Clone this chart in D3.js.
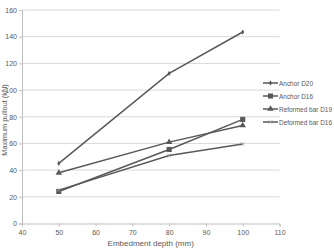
<!DOCTYPE html>
<meta charset="utf-8">
<title>Maximum pullout vs embedment depth</title>
<style>
body { margin: 0; background: #fff; }
text { font-family: "Liberation Sans", Arial, sans-serif; fill: #595959; }
</style>
<body>
<div id="chart"></div>
<script src="https://d3js.org/d3.v7.min.js"></script>
<script>
// data
const depths = [50, 80, 100];
const seriesNames = ["Anchor D20", "Anchor D16", "Reformed bar D19", "Deformed bar D16"];
const anchorD20 = [45, 112.5, 143.5];
const anchorD16 = [24, 55.5, 78];
const reformedD19 = [38, 61, 73.5];
const deformedD16 = [25, 51, 59.5];
const xTicks = [40, 50, 60, 70, 80, 90, 100, 110];
const yTicks = [0, 20, 40, 60, 80, 100, 120, 140, 160];

const width = 334, height = 249;
const textColor = "#595959";
const svg = d3.select("#chart").append("svg")
    .attr("width", width)
    .attr("height", height);

const x = d3.scaleLinear().domain([40, 110]).range([22, 279.5]);
const y = d3.scaleLinear().domain([0, 160]).range([223.5, 10]);

// gridlines
svg.append("g")
  .selectAll("line")
  .data(yTicks.slice(1))
  .join("line")
    .attr("x1", x(40)).attr("x2", x(110))
    .attr("y1", d => y(d)).attr("y2", d => y(d))
    .attr("stroke", "#d9d9d9").attr("stroke-width", 1);

// axes
const xAxis = svg.append("g")
    .attr("transform", `translate(0,${y(0)})`)
    .call(d3.axisBottom(x).tickValues(xTicks).tickSize(3).tickPadding(4));
const yAxis = svg.append("g")
    .attr("transform", `translate(${x(40)},0)`)
    .call(d3.axisLeft(y).tickValues(yTicks).tickSize(3).tickPadding(2));
[xAxis, yAxis].forEach(g => {
  g.attr("font-family", null).attr("font-size", null);
  g.selectAll("path, line").attr("stroke", "#bfbfbf");
  g.selectAll("text").style("font-size", "7px").style("fill", textColor);
});

svg.append("text")
    .attr("x", (x(40) + x(110)) / 2)
    .attr("y", 246)
    .attr("text-anchor", "middle")
    .style("font-size", "8px")
    .style("fill", textColor)
    .text("Embedment depth (mm)");

svg.append("text")
    .attr("transform", `translate(7,120) rotate(-90) scale(0.92,1)`)
    .attr("text-anchor", "middle")
    .style("font-size", "8px")
    .style("fill", textColor)
    .text("Maximum pullout (kN)");

const series = [
  { name: seriesNames[0], values: anchorD20, symbol: d3.symbolDiamond, size: 8 },
  { name: seriesNames[1], values: anchorD16, symbol: d3.symbolSquare, size: 26 },
  { name: seriesNames[2], values: reformedD19, symbol: d3.symbolTriangle, size: 18 },
  { name: seriesNames[3], values: deformedD16, symbol: d3.symbolTimes, size: 10 }
];

const line = d3.line().x((d, i) => x(depths[i])).y(d => y(d));
const lineColor = "#595959";

series.forEach(s => {
  svg.append("path")
      .datum(s.values)
      .attr("d", line)
      .attr("fill", "none")
      .attr("stroke", lineColor)
      .attr("stroke-width", 1.5);
  svg.append("g")
    .selectAll("path")
    .data(s.values)
    .join("path")
      .attr("transform", (d, i) => `translate(${x(depths[i])},${y(d)})`)
      .attr("d", d3.symbol(s.symbol, s.size))
      .attr("fill", s.symbol === d3.symbolTimes ? "none" : lineColor)
      .attr("stroke", s.symbol === d3.symbolTimes ? "#999" : "none")
      .attr("stroke-width", 0.8);
});

// legend
const legend = svg.append("g").attr("transform", "translate(263,83)");
series.forEach((s, i) => {
  const g = legend.append("g").attr("transform", `translate(0,${i * 13})`);
  g.append("line")
      .attr("x1", 0).attr("x2", 15)
      .attr("stroke", lineColor).attr("stroke-width", 1.5);
  g.append("path")
      .attr("transform", "translate(7.5,0)")
      .attr("d", d3.symbol(s.symbol, s.size))
      .attr("fill", s.symbol === d3.symbolTimes ? "none" : lineColor)
      .attr("stroke", s.symbol === d3.symbolTimes ? "#999" : "none")
      .attr("stroke-width", 0.8);
  g.append("text")
      .attr("transform", "translate(16,0) scale(0.86,1)")
      .attr("dy", "0.35em")
      .style("font-size", "7.5px")
      .style("fill", textColor)
      .text(s.name);
});
</script>
</body>
</html>
